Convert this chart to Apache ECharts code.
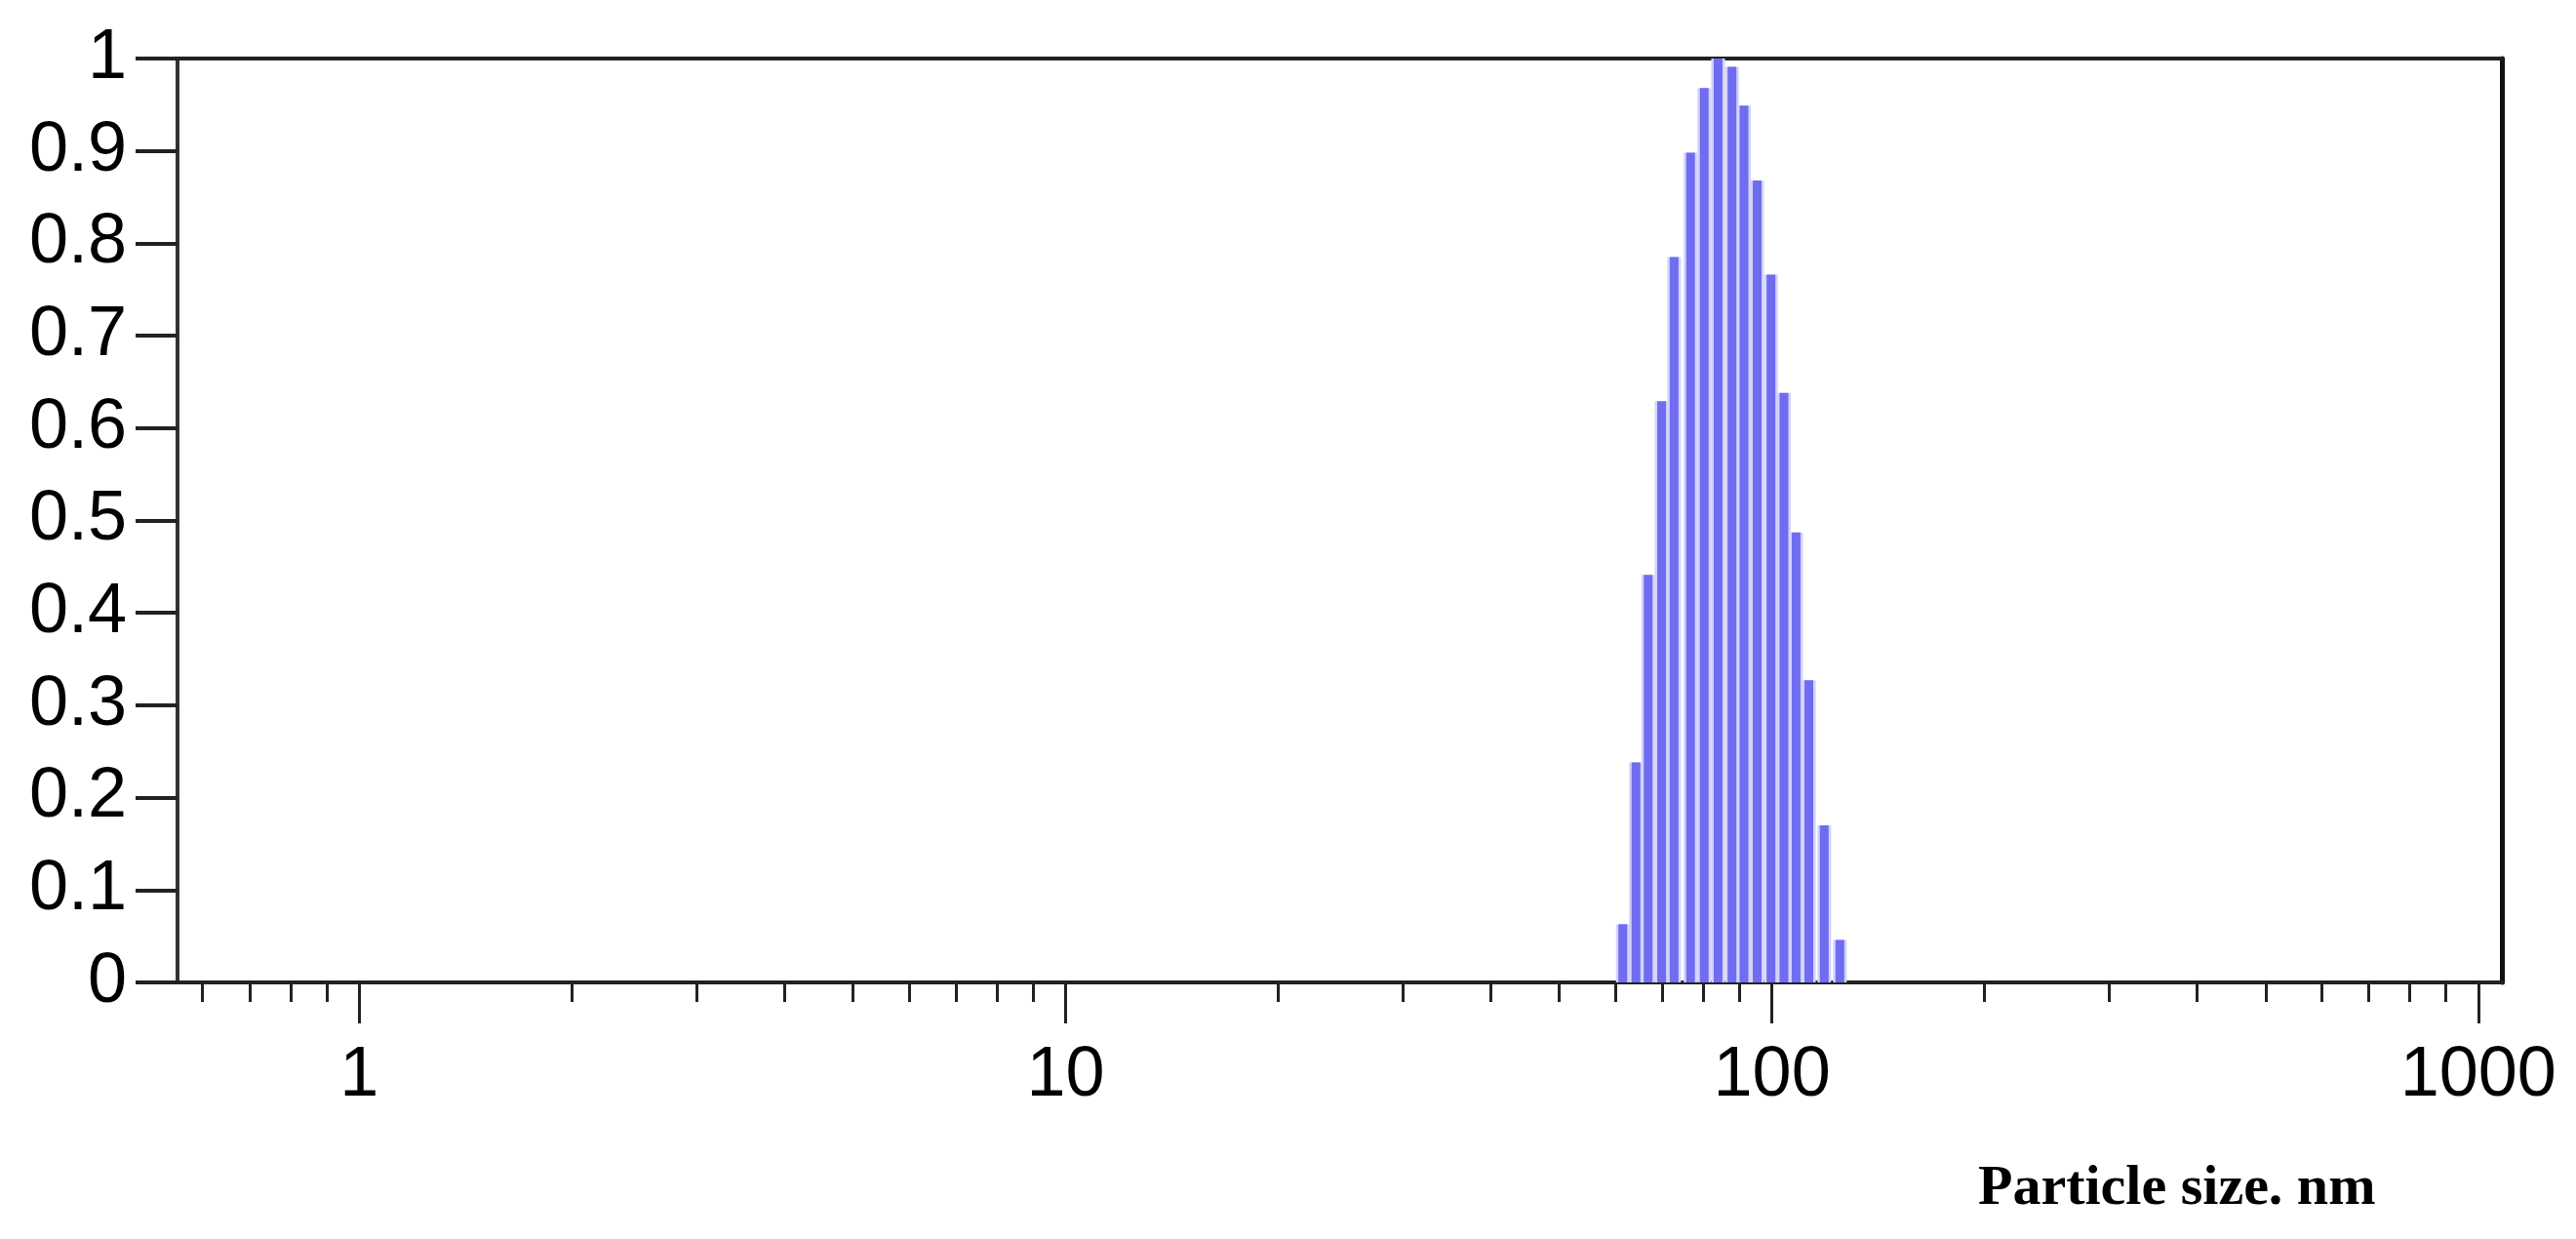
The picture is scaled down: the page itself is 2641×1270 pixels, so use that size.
<!DOCTYPE html>
<html lang="en">
<head>
    <meta charset="UTF-8">
    <title>Particle size distribution</title>
    <style>
        body {
            margin: 0;
            background: #fff;
        }
        #chart {
            width: 2641px;
            height: 1270px;
        }
    </style>
</head>
<body>
    <div id="chart"></div>
    <script src="https://cdn.jsdelivr.net/npm/echarts@6/dist/echarts.min.js"></script>
    <script>
        // particle size (nm) of each bar and its relative intensity
        const sizes = [61.5, 64.2, 66.8, 69.8, 72.7, 76.7, 80.2, 83.9, 87.8, 91.3, 95.3, 99.7, 104, 108.2, 112.8, 118.6, 124.8];
        const intensity = [0.063, 0.238, 0.441, 0.629, 0.785, 0.898, 0.968, 1.0, 0.991, 0.949, 0.868, 0.766, 0.638, 0.487, 0.327, 0.17, 0.046];
        const majorTicks = [1, 10, 100, 1000];
        const minorTicks = [0.6, 0.7, 0.8, 0.9, 2, 3, 4, 5, 6, 7, 8, 9, 20, 30, 40, 50, 60, 70, 80, 90, 200, 300, 400, 500, 600, 700, 800, 900];

        const xMin = 0.553;
        const xMax = 1080;
        const points = sizes.map((s, i) => [s, intensity[i]]);

        const chart = echarts.init(document.getElementById('chart'));
        chart.setOption({
            animation: false,
            graphic: [
                {
                    type: 'text',
                    x: 2028,
                    y: 1219,
                    style: {
                        text: 'Particle size. nm',
                        font: 'bold 58px "Liberation Serif"',
                        fill: '#000',
                        verticalAlign: 'middle',
                    },
                },
            ],
            grid: {
                left: 182,
                right: 76,
                top: 60,
                bottom: 263,
            },
            xAxis: [
                {
                    type: 'log',
                    min: xMin,
                    max: xMax,
                    position: 'bottom',
                    axisLine: { lineStyle: { color: '#222', width: 4 } },
                    axisTick: {
                        customValues: majorTicks,
                        length: 42,
                        lineStyle: { color: '#222', width: 3 },
                    },
                    axisLabel: {
                        customValues: majorTicks,
                        formatter: v => String(v),
                        margin: 60,
                        fontFamily: 'Liberation Sans',
                        fontSize: 72,
                        color: '#000',
                    },
                    splitLine: { show: false },
                },
                {
                    type: 'log',
                    min: xMin,
                    max: xMax,
                    position: 'bottom',
                    axisLine: { show: false },
                    axisTick: {
                        customValues: minorTicks,
                        length: 20,
                        lineStyle: { color: '#222', width: 3 },
                    },
                    axisLabel: { show: false },
                    splitLine: { show: false },
                },
                {
                    type: 'log',
                    min: xMin,
                    max: xMax,
                    position: 'top',
                    axisLine: { lineStyle: { color: '#222', width: 4 } },
                    axisTick: { show: false },
                    axisLabel: { show: false },
                    splitLine: { show: false },
                },
            ],
            yAxis: [
                {
                    type: 'value',
                    min: 0,
                    max: 1,
                    interval: 0.1,
                    axisLine: { show: true, lineStyle: { color: '#333', width: 4 } },
                    axisTick: {
                        show: true,
                        length: 43,
                        lineStyle: { color: '#222', width: 4 },
                    },
                    axisLabel: {
                        margin: 52,
                        fontFamily: 'Liberation Sans',
                        fontSize: 72,
                        color: '#000',
                    },
                    splitLine: { show: false },
                },
                {
                    type: 'value',
                    min: 0,
                    max: 1,
                    position: 'right',
                    axisLine: { show: true, lineStyle: { color: '#111', width: 5 } },
                    axisTick: { show: false },
                    axisLabel: { show: false },
                    splitLine: { show: false },
                },
            ],
            series: [
                {
                    // light halo behind each bar, on the top axis so it centres on its own
                    type: 'bar',
                    xAxisIndex: 2,
                    data: points,
                    barWidth: 14,
                    itemStyle: { color: '#d2d3fa' },
                    silent: true,
                },
                {
                    type: 'bar',
                    xAxisIndex: 0,
                    data: points,
                    barWidth: 9,
                    itemStyle: { color: '#6f6cf0' },
                },
            ],
        });
    </script>
</body>
</html>
